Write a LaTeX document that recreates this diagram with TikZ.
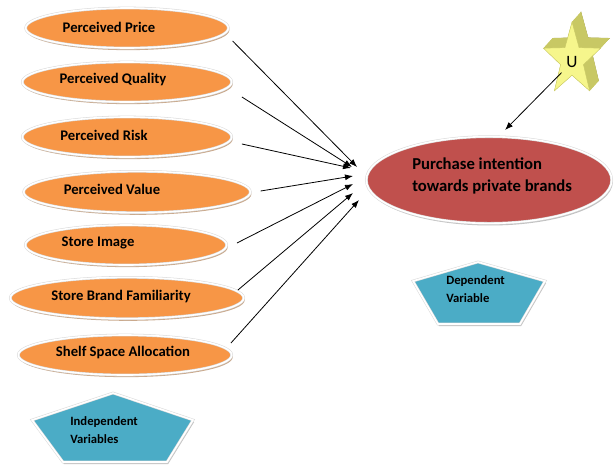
\documentclass[tikz,border=0pt]{standalone}
\usepackage{fontspec}
\setmainfont{Carlito}
\usetikzlibrary{shapes.geometric,shadows,arrows.meta}

\definecolor{factorfill}{RGB}{247,150,70}
\definecolor{intentfill}{RGB}{192,80,77}
\definecolor{kindfill}{RGB}{75,172,198}
\definecolor{rimshadow}{RGB}{196,160,128}
\definecolor{starfront}{RGB}{246,246,140}
\definecolor{starside}{RGB}{200,200,100}

\begin{document}
\begin{tikzpicture}[x=0.75pt,y=0.75pt,yscale=-1,xscale=1,
	factor/.style={ellipse, fill=factorfill, draw=gray!30, double=white, double distance=1.2pt,
		inner sep=0pt, drop shadow={shadow xshift=0.8pt, shadow yshift=-1.6pt, fill=rimshadow, opacity=0.9}},
	intent/.style={ellipse, fill=intentfill, draw=gray!30, double=white, double distance=1.2pt,
		inner sep=0pt, drop shadow={shadow xshift=0.8pt, shadow yshift=-1.6pt, fill=gray!60, opacity=0.8}},
	kind/.style={fill=kindfill, draw=gray!30, double=white, double distance=1.2pt,
		drop shadow={shadow xshift=0.8pt, shadow yshift=-1.6pt, fill=gray!60, opacity=0.8}},
	factortext/.style={inner sep=0.75pt, font=\fontsize{11}{13}\selectfont\bfseries},
	kindtext/.style={inner sep=0.75pt, anchor=west, align=left, font=\fontsize{9.5}{14}\selectfont\bfseries},
	link/.style={-{Latex[length=6pt,width=4.5pt]}, line width=0.6pt},
]
\useasboundingbox (0,0) rectangle (616,465);

%Shape: Ellipse (independent variables)
\node[factor, minimum width=152pt, minimum height=30pt] (price) at (127,28) {};
\node[factor, minimum width=157pt, minimum height=30pt] (quality) at (127,82) {};
\node[factor, minimum width=157pt, minimum height=30pt] (risk) at (127,137) {};
\node[factor, minimum width=170pt, minimum height=31pt] (value) at (137,192) {};
\node[factor, minimum width=151pt, minimum height=30pt] (image) at (126,245) {};
\node[factor, minimum width=175pt, minimum height=31pt] (familiar) at (127,298) {};
\node[factor, minimum width=160pt, minimum height=30pt] (shelf) at (125,355) {};

% Text Node
\node[factortext] (price-t) at (109,27) {Perceived Price};
% Text Node
\node[factortext] (quality-t) at (113,80) {Perceived Quality};
% Text Node
\node[factortext] (risk-t) at (104,135) {Perceived Risk};
% Text Node
\node[factortext] (value-t) at (112,189) {Perceived Value};
% Text Node
\node[factortext] (image-t) at (98,243) {Store Image};
% Text Node
\node[factortext] (familiar-t) at (121,296) {Store Brand Familiarity};
% Text Node
\node[factortext] (shelf-t) at (123,352) {Shelf Space Allocation};

%Shape: Ellipse (dependent variable)
\node[intent, minimum width=184pt, minimum height=65pt] (intention) at (489,180) {};
% Text Node
\node[anchor=west, align=left, inner sep=0.75pt, font=\fontsize{12.5}{17}\selectfont\bfseries]
	(intention-t) at (411,176) {Purchase intention\\towards private brands};

%Shape: Star (back face and extruded sides)
\draw[fill=starside, draw=starside!80!black, line width=0.3pt] (581,12)
	\foreach \a/\r in {126/12,162/30,198/12,234/30,270/12,306/30,342/12,18/30,54/12}
	{ -- ({581+\r*cos(\a)},{50-1.27*\r*sin(\a)}) } -- cycle;
\foreach \a/\r/\b/\s in {90/30/126/12,126/12/162/30,162/30/198/12,198/12/234/30,234/30/270/12,
		270/12/306/30,306/30/342/12,342/12/18/30,18/30/54/12,54/12/90/30}
	\fill[starside] ({572+\r*cos(\a)},{60-1.27*\r*sin(\a)}) -- ({572+\s*cos(\b)},{60-1.27*\s*sin(\b)})
		-- ({581+\s*cos(\b)},{50-1.27*\s*sin(\b)}) -- ({581+\r*cos(\a)},{50-1.27*\r*sin(\a)}) -- cycle;
%Shape: Star (front face)
\draw[fill=starfront, draw=starside, line width=0.3pt] (572,22)
	\foreach \a/\r in {126/12,162/30,198/12,234/30,270/12,306/30,342/12,18/30,54/12}
	{ -- ({572+\r*cos(\a)},{60-1.27*\r*sin(\a)}) } -- cycle;
% Text Node
\node[inner sep=0.75pt, font=\fontsize{13}{15}\selectfont] (u) at (572,62) {U};

%Shape: Pentagon
\draw[kind] (478,262) -- (545,281) -- (520,324) -- (438,324) -- (413,281) -- cycle;
% Text Node
\node[kindtext] (dep-t) at (445,289) {Dependent\\Variable};
%Shape: Pentagon
\draw[kind] (113,393) -- (193,420) -- (167,462) -- (63,462) -- (32,420) -- cycle;
% Text Node
\node[kindtext] (indep-t) at (69,430) {Independent\\Variables};

% arrow heads next to the dependent variable
\coordinate (in1) at (357,167);
\coordinate (in2) at (352,167);
\coordinate (in3) at (351,168);
\coordinate (in4) at (353,176);
\coordinate (in5) at (353,184);
\coordinate (in6) at (353,193);
\coordinate (in7) at (359,200);
\coordinate (inU) at (505,130);

%Straight Lines
\draw[link] ([shift={(4,13)}]price.east) -- (in1);
\draw[link] ([shift={(10,15)}]quality.east) -- (in2);
\draw[link] ([shift={(10,7)}]risk.east) -- (in3);
\draw[link] ([shift={(10,-1)}]value.east) -- (in4);
\draw[link] ([shift={(10,-2)}]image.east) -- (in5);
\draw[link] ([shift={(-6,-8)}]familiar.east) -- (in6);
\draw[link] ([shift={(-1,-12)}]shelf.east) -- (in7);
\draw[link, shorten <=4pt] (u) -- (inU);

\end{tikzpicture}
\end{document}
